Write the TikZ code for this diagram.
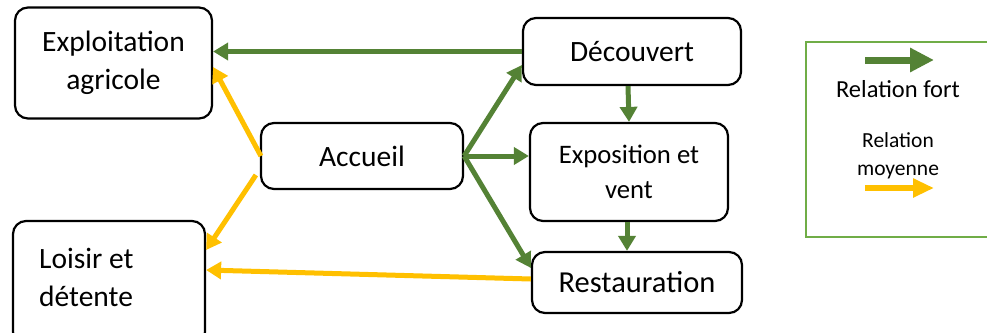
\documentclass[tikz,border=0pt]{standalone}
\usepackage{fontspec}
\setmainfont{Carlito}
\usetikzlibrary{arrows.meta}
\definecolor{gdark}{HTML}{548235}
\definecolor{gold}{HTML}{FFC000}
\definecolor{glight}{HTML}{70AD47}
\begin{document}
\begin{tikzpicture}[x=1pt,y=-1pt,
  box/.style={draw=black, line width=2.2pt, rounded corners=13pt, inner sep=0pt, align=center, font=\fontsize{29.5}{38}\selectfont},
  strong/.style={draw=gdark, line width=5pt, -{Triangle[length=15pt,width=17pt]}},
  medium/.style={draw=gold, line width=5pt, -{Triangle[length=15pt,width=17pt]}},
  legtext/.style={font=\fontsize{21.5}{28}\selectfont, align=center, inner sep=0pt}]
\useasboundingbox (0,0) rectangle (987,332);
% boxes
\node[box, minimum width=197pt, minimum height=111pt] (exp) at (113.5,63) {Exploitation\\agricole};
\node[box, minimum width=192pt, minimum height=124pt] (loi) at (109,283) {};
\node[font=\fontsize{29.5}{38}\selectfont, align=left, inner sep=0pt, anchor=west] (loit) at (39,277) {Loisir et\\détente};
\node[box, minimum width=202pt, minimum height=66pt] (acc) at (362,156) {Accueil};
\node[box, minimum width=218pt, minimum height=67pt] (dec) at (632,51.5) {Découvert};
\node[box, minimum width=198pt, minimum height=98pt, font=\fontsize{26.7}{35}\selectfont] (expo) at (629,172) {Exposition et\\vent};
\node[box, minimum width=210pt, minimum height=61pt, font=\fontsize{30.5}{38}\selectfont] (rest) at (637,282.5) {Restauration};
% strong relations
\draw[strong] (dec.west) -- (exp.east |- dec.west);
\draw[strong] (acc.east) -- ([yshift=-13.5pt]dec.west);
\draw[strong] (acc.east) -- (expo.west |- acc.east);
\draw[strong] (acc.east) -- ([yshift=14.5pt]rest.west);
\draw[strong] ([xshift=-4pt]dec.south) -- (expo.north);
\draw[strong] ([xshift=-2pt]expo.south) -- ([xshift=-2pt]expo.south |- rest.north);
% medium relations
\draw[medium] ([xshift=1pt]acc.west) -- ([yshift=-4pt]exp.east);
\draw[medium] ([yshift=-19pt,xshift=-4pt]acc.west) -- ([yshift=33pt]loi.east);
\draw[medium] ([yshift=3.5pt]rest.west) -- ([yshift=13pt]loi.east);
% legend
\draw[glight, line width=2pt] (806,42) rectangle (1000,237);
\coordinate (l1a) at (865,60);
\coordinate (l1b) at (934,60);
\coordinate (l2a) at (865,188);
\coordinate (l2b) at (934,188);
\draw[draw=gdark, line width=7pt, -{Triangle[length=24pt,width=23pt]}] (l1a) -- (l1b);
\draw[draw=gold, line width=6pt, -{Triangle[length=21pt,width=18pt]}] (l2a) -- (l2b);
\node[legtext, anchor=base, font=\fontsize{24.5}{28}\selectfont] (lt1) at (898,97) {Relation fort};
\node[legtext, anchor=base] (lt2) at (898,147) {Relation};
\node[legtext, anchor=base] (lt3) at (898,175) {moyenne};
\end{tikzpicture}
\end{document}
